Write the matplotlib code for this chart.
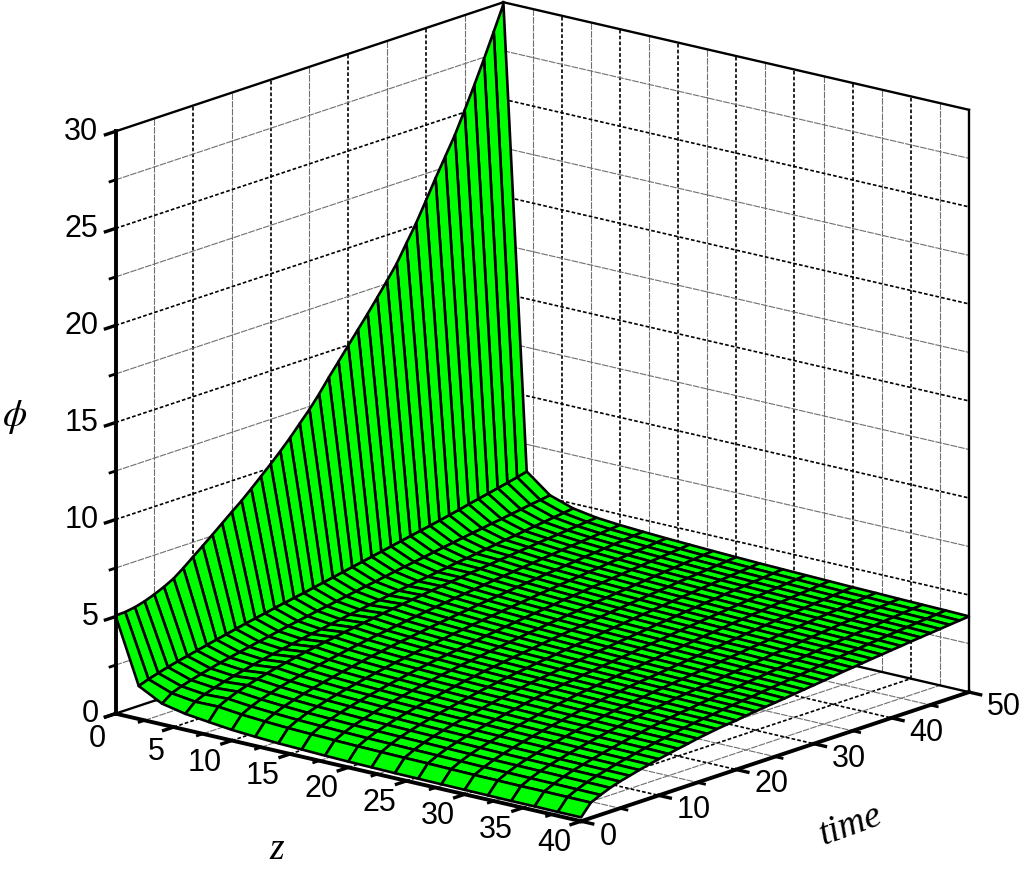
import numpy as np
import matplotlib
matplotlib.use('Agg')
import matplotlib.pyplot as plt
from mpl_toolkits.mplot3d import proj3d

z_nodes = [0, 2, 4, 6, 8, 10, 12, 14, 16, 18, 20, 22, 24, 26, 28, 30, 32, 34, 36, 38, 40]
time_nodes = np.arange(41) * 1.25
# one row per z node, one value per time node
phi_rows = [
    [5.05,5.07,5.15,5.29,5.48,5.70,5.97,6.34,6.75,7.15,7.56,7.98,8.40,8.81,9.26,9.73,10.2,10.7,11.22,11.79,12.35,12.98,13.67,14.32,14.98,15.63,16.28,16.96,17.65,18.37,19.25,20.12,21.1,22.1,23.05,24.0,25.1,26.24,27.42,28.65,29.9],
    [1.70,1.88,2.03,2.17,2.30,2.41,2.52,2.64,2.75,2.86,2.97,3.08,3.18,3.28,3.38,3.48,3.58,3.67,3.77,3.87,3.97,4.07,4.17,4.27,4.37,4.47,4.57,4.67,4.77,4.87,4.97,5.07,5.18,5.29,5.41,5.52,5.63,5.74,5.85,5.97,6.10],
    [1.07,1.44,1.63,1.78,1.92,2.05,2.17,2.28,2.39,2.50,2.60,2.70,2.80,2.90,2.99,3.08,3.18,3.26,3.35,3.44,3.53,3.62,3.70,3.79,3.88,3.96,4.04,4.12,4.21,4.29,4.37,4.45,4.53,4.61,4.69,4.76,4.84,4.92,5.00,5.07,5.15],
    [0.82,1.28,1.49,1.66,1.81,1.94,2.06,2.18,2.29,2.39,2.49,2.58,2.68,2.77,2.85,2.94,3.03,3.11,3.19,3.27,3.35,3.43,3.51,3.58,3.66,3.73,3.80,3.87,3.95,4.01,4.08,4.15,4.22,4.29,4.35,4.42,4.49,4.55,4.62,4.68,4.75],
    [0.68,1.30,1.54,1.74,1.90,2.05,2.18,2.30,2.41,2.52,2.62,2.71,2.80,2.88,2.97,3.05,3.12,3.20,3.28,3.35,3.42,3.49,3.55,3.62,3.68,3.74,3.80,3.86,3.91,3.97,4.03,4.08,4.14,4.19,4.25,4.30,4.35,4.40,4.45,4.50,4.55],
    [0.55,1.17,1.42,1.62,1.78,1.93,2.06,2.18,2.29,2.40,2.50,2.59,2.69,2.77,2.86,2.94,3.01,3.09,3.17,3.24,3.31,3.38,3.44,3.51,3.57,3.63,3.69,3.76,3.81,3.87,3.93,3.98,4.04,4.09,4.15,4.20,4.25,4.30,4.35,4.40,4.45],
    [0.47,1.09,1.34,1.54,1.70,1.85,1.98,2.10,2.21,2.32,2.42,2.52,2.62,2.70,2.79,2.87,2.94,3.02,3.10,3.17,3.24,3.31,3.37,3.44,3.50,3.56,3.62,3.69,3.74,3.80,3.86,3.91,3.97,4.02,4.08,4.13,4.18,4.23,4.28,4.33,4.38],
    [0.41,1.03,1.28,1.48,1.64,1.79,1.92,2.04,2.15,2.26,2.36,2.46,2.56,2.64,2.73,2.81,2.88,2.96,3.04,3.11,3.18,3.25,3.31,3.38,3.44,3.50,3.56,3.63,3.68,3.74,3.80,3.85,3.91,3.96,4.02,4.07,4.12,4.17,4.22,4.27,4.32],
    [0.37,0.99,1.24,1.44,1.60,1.75,1.88,2.00,2.11,2.22,2.32,2.42,2.52,2.60,2.69,2.76,2.83,2.91,2.99,3.06,3.13,3.20,3.26,3.33,3.39,3.45,3.51,3.58,3.63,3.69,3.75,3.80,3.86,3.91,3.97,4.02,4.07,4.12,4.17,4.22,4.27],
    [0.33,0.95,1.20,1.40,1.56,1.71,1.84,1.96,2.07,2.18,2.28,2.38,2.48,2.56,2.65,2.72,2.79,2.87,2.94,3.01,3.08,3.15,3.21,3.28,3.34,3.40,3.46,3.53,3.58,3.64,3.70,3.75,3.81,3.86,3.92,3.97,4.02,4.07,4.12,4.17,4.22],
    [0.30,0.92,1.17,1.37,1.53,1.68,1.81,1.93,2.04,2.15,2.25,2.35,2.45,2.53,2.62,2.69,2.76,2.84,2.90,2.97,3.04,3.11,3.17,3.24,3.30,3.36,3.42,3.49,3.54,3.60,3.66,3.71,3.77,3.82,3.88,3.93,3.98,4.03,4.08,4.13,4.18],
    [0.28,0.90,1.15,1.35,1.51,1.65,1.78,1.90,2.01,2.12,2.22,2.32,2.42,2.50,2.59,2.66,2.73,2.81,2.87,2.94,3.01,3.07,3.13,3.20,3.26,3.32,3.38,3.45,3.50,3.56,3.62,3.67,3.73,3.78,3.84,3.89,3.94,3.99,4.04,4.09,4.14],
    [0.26,0.88,1.13,1.33,1.49,1.63,1.76,1.88,1.99,2.10,2.20,2.30,2.40,2.48,2.57,2.64,2.70,2.78,2.84,2.91,2.98,3.04,3.10,3.17,3.23,3.29,3.35,3.42,3.47,3.53,3.59,3.64,3.70,3.75,3.81,3.86,3.91,3.96,4.01,4.06,4.11],
    [0.25,0.87,1.11,1.31,1.47,1.61,1.74,1.86,1.97,2.08,2.18,2.28,2.38,2.46,2.55,2.62,2.68,2.76,2.82,2.89,2.95,3.01,3.07,3.14,3.20,3.26,3.32,3.39,3.44,3.50,3.56,3.61,3.67,3.72,3.78,3.83,3.88,3.93,3.98,4.03,4.08],
    [0.24,0.85,1.09,1.29,1.45,1.59,1.72,1.84,1.95,2.06,2.16,2.26,2.36,2.44,2.53,2.60,2.66,2.74,2.80,2.87,2.92,2.98,3.04,3.11,3.17,3.23,3.29,3.36,3.41,3.47,3.53,3.58,3.64,3.69,3.75,3.80,3.85,3.90,3.95,4.00,4.05],
    [0.23,0.83,1.07,1.27,1.43,1.57,1.70,1.82,1.93,2.04,2.14,2.24,2.34,2.42,2.51,2.58,2.64,2.72,2.78,2.84,2.90,2.96,3.02,3.08,3.14,3.20,3.26,3.32,3.38,3.44,3.50,3.55,3.61,3.66,3.72,3.77,3.82,3.87,3.92,3.97,4.02],
    [0.22,0.82,1.06,1.26,1.42,1.56,1.69,1.81,1.92,2.03,2.13,2.23,2.33,2.41,2.49,2.56,2.62,2.70,2.76,2.82,2.88,2.94,3.00,3.06,3.12,3.18,3.24,3.31,3.36,3.42,3.48,3.53,3.59,3.64,3.70,3.75,3.80,3.85,3.90,3.95,4.00],
    [0.21,0.81,1.05,1.25,1.41,1.54,1.67,1.79,1.90,2.01,2.11,2.21,2.31,2.39,2.47,2.54,2.60,2.68,2.74,2.80,2.85,2.91,2.97,3.03,3.09,3.15,3.21,3.28,3.33,3.39,3.45,3.50,3.56,3.61,3.67,3.72,3.77,3.82,3.87,3.92,3.97],
    [0.21,0.81,1.04,1.24,1.40,1.53,1.66,1.78,1.89,2.00,2.10,2.19,2.29,2.37,2.45,2.52,2.58,2.66,2.72,2.78,2.83,2.89,2.95,3.01,3.07,3.13,3.19,3.26,3.31,3.37,3.43,3.48,3.54,3.59,3.65,3.70,3.75,3.80,3.85,3.90,3.95],
    [0.20,0.80,1.03,1.23,1.39,1.52,1.65,1.77,1.88,1.99,2.09,2.18,2.28,2.36,2.44,2.51,2.56,2.64,2.70,2.76,2.81,2.87,2.93,2.99,3.05,3.11,3.17,3.24,3.29,3.35,3.41,3.46,3.52,3.57,3.63,3.68,3.73,3.78,3.83,3.88,3.93],
    [0.20,0.79,1.02,1.22,1.38,1.51,1.64,1.76,1.87,1.97,2.07,2.16,2.26,2.34,2.42,2.48,2.53,2.61,2.67,2.73,2.78,2.84,2.90,2.96,3.02,3.08,3.14,3.21,3.26,3.32,3.38,3.43,3.49,3.54,3.60,3.65,3.70,3.75,3.80,3.85,3.90],
]
z_ticks = [0, 5, 10, 15, 20, 25, 30, 35, 40]
z_minor = [2.5, 7.5, 12.5, 17.5, 22.5, 27.5, 32.5, 37.5]
time_ticks = [0, 10, 20, 30, 40, 50]
time_minor = [5, 15, 25, 35, 45]
phi_ticks = [0, 5, 10, 15, 20, 25, 30]
phi_minor = [2.5, 7.5, 12.5, 17.5, 22.5, 27.5]

plt.rcParams['font.family'] = ['Liberation Sans', 'DejaVu Sans']
plt.rcParams['mathtext.fontset'] = 'stix'

fig = plt.figure(figsize=(10.24, 8.7), dpi=100)
ax = fig.add_axes([19 / 1024, -66 / 870, 1019 / 1024, 1019 / 870], projection='3d', computed_zorder=False)
ax.set_proj_type('ortho')
ax.view_init(elev=16.1, azim=-50.2)
ax.set_box_aspect((1, 1, 1))
ax.set_xlim(0, 40, view_margin=0)
ax.set_ylim(0, 50, view_margin=0)
ax.set_zlim(0, 30, view_margin=0)
ax.set_xticks([])
ax.set_yticks([])
ax.set_zticks([])
ax.set_axis_off()


def grid_line(xs, ys, zs, major):
    if major:
        ax.plot(xs, ys, zs, color='black', lw=1.2, ls=(0, (2.2, 1.3)), zorder=1)
    else:
        ax.plot(xs, ys, zs, color='#707070', lw=0.8, ls=(0, (6, 1)), zorder=1)


def tick_label(x, y, z, s, ha='center'):
    # plain 2D text at the projected spot, the 3D text class reports odd extents
    px, py, _ = proj3d.proj_transform(x, y, z, ax.get_proj())
    ax.text2D(px, py, s, transform=ax.transData, ha=ha, va='center', fontsize=22, zorder=5)


# walls and floor
for v in z_ticks[1:-1] + z_minor:
    major = v in z_ticks
    grid_line([v, v], [50, 50], [0, 30], major)
    grid_line([v, v], [0, 50], [0, 0], major)
for v in time_ticks[1:-1] + time_minor:
    major = v in time_ticks
    grid_line([0, 0], [v, v], [0, 30], major)
    grid_line([0, 40], [v, v], [0, 0], major)
for v in phi_ticks[1:-1] + phi_minor:
    major = v in phi_ticks
    grid_line([0, 0], [0, 50], [v, v], major)
    grid_line([0, 40], [50, 50], [v, v], major)

# thin box edges
for xs, ys, zs in [([0, 0], [0, 50], [30, 30]), ([0, 40], [50, 50], [30, 30]),
                   ([40, 40], [50, 50], [0, 30]), ([0, 0], [50, 50], [0, 30]),
                   ([0, 0], [0, 50], [0, 0]), ([0, 40], [50, 50], [0, 0])]:
    ax.plot(xs, ys, zs, color='black', lw=1.7, zorder=2)

Y, X = np.meshgrid(time_nodes, z_nodes)
Z = np.array(phi_rows)
ax.plot_surface(X, Y, Z, rstride=1, cstride=1, color='#00ff00', edgecolor='black',
                linewidth=1.9, shade=False, antialiased=True, zorder=3)

# thick axes
ax.plot([0, 40], [0, 0], [0, 0], color='black', lw=2.8, zorder=4)
ax.plot([40, 40], [0, 50], [0, 0], color='black', lw=2.8, zorder=4)
ax.plot([0, 0], [0, 0], [0, 30], color='black', lw=2.8, zorder=4)

for v in z_ticks:
    ax.plot([v, v], [0, -1.3], [0, 0], color='black', lw=2.4, zorder=4)
for v in z_minor:
    ax.plot([v, v], [0, -0.7], [0, 0], color='black', lw=2, zorder=4)
for v in time_ticks:
    ax.plot([40, 41], [v, v], [0, 0], color='black', lw=2.4, zorder=4)
for v in time_minor:
    ax.plot([40, 40.6], [v, v], [0, 0], color='black', lw=2, zorder=4)
for v in phi_ticks:
    ax.plot([0, 0], [0, -1.3], [v, v], color='black', lw=2.4, zorder=4)
for v in phi_minor:
    ax.plot([0, 0], [0, -0.7], [v, v], color='black', lw=2, zorder=4)

for v in z_ticks:
    if v < 10:
        tick_label(v, -2.3, -0.95, str(v))
    else:
        tick_label(v, -3.5, -0.62, str(v))
for v in time_ticks:
    if v == 0:
        tick_label(42.3, v, -0.45, str(v))
    else:
        tick_label(43, v, -0.3, str(v))
for v in phi_ticks:
    tick_label(0, -2.2, v + 0.3, str(v), ha='right')

serif = 'Liberation Serif'
fig.text(15 / 1024, 1 - 417 / 870, r'$\phi$', fontsize=28, ha='center', va='center')
fig.text(277 / 1024, 1 - 850 / 870, 'z', fontsize=27, family=serif, style='italic',
         ha='center', va='center')
fig.text(850 / 1024, 1 - 825 / 870, 'time', fontsize=27, family=serif, style='italic',
         rotation=20, ha='center', va='center')

fig.savefig('out.png', dpi=100)
